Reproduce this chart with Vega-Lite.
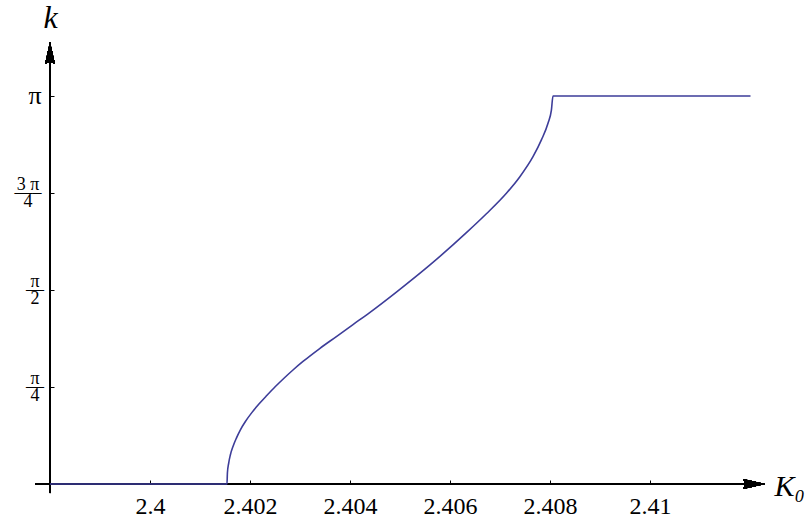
{
  "$schema": "https://vega.github.io/schema/vega-lite/v6.json",
  "width": 725,
  "height": 388,
  "autosize": "none",
  "padding": {"left": 50, "top": 96, "right": 31, "bottom": 36},
  "background": "white",
  "config": {"view": {"stroke": null}},
  "resolve": {"axis": {"x": "independent", "y": "independent"}},
  "data": {
    "values": [
      {"K0": 2.398, "k": 0},
      {"K0": 2.40154, "k": 0},
      {"K0": 2.401548, "k": 0.089},
      {"K0": 2.401574, "k": 0.17},
      {"K0": 2.401608, "k": 0.237},
      {"K0": 2.40166, "k": 0.304},
      {"K0": 2.401728, "k": 0.372},
      {"K0": 2.401808, "k": 0.439},
      {"K0": 2.401908, "k": 0.506},
      {"K0": 2.40204, "k": 0.58},
      {"K0": 2.402174, "k": 0.645},
      {"K0": 2.40234, "k": 0.718},
      {"K0": 2.402508, "k": 0.789},
      {"K0": 2.402674, "k": 0.854},
      {"K0": 2.402854, "k": 0.921},
      {"K0": 2.40306, "k": 0.992},
      {"K0": 2.403394, "k": 1.097},
      {"K0": 2.403728, "k": 1.194},
      {"K0": 2.40406, "k": 1.291},
      {"K0": 2.404394, "k": 1.388},
      {"K0": 2.404928, "k": 1.554},
      {"K0": 2.405594, "k": 1.772},
      {"K0": 2.406328, "k": 2.035},
      {"K0": 2.406728, "k": 2.188},
      {"K0": 2.407128, "k": 2.354},
      {"K0": 2.407394, "k": 2.486},
      {"K0": 2.40766, "k": 2.65},
      {"K0": 2.407828, "k": 2.786},
      {"K0": 2.40796, "k": 2.921},
      {"K0": 2.408028, "k": 3.028},
      {"K0": 2.40806, "k": 3.14159},
      {"K0": 2.41201, "k": 3.14159}
    ]
  },
  "layer": [
    {
      "mark": {"type": "rule", "color": "black", "strokeWidth": 1},
      "encoding": {
        "x": {"datum": 2.3977, "type": "quantitative", "scale": {"domain": [2.398, 2.4125], "nice": false, "zero": false}, "axis": null},
        "x2": {"datum": 2.4119},
        "y": {"datum": 0, "type": "quantitative", "scale": {"domain": [0, 3.14159265], "nice": false, "zero": false}, "axis": null}
      }
    },
    {
      "mark": {"type": "rule", "color": "black", "strokeWidth": 1},
      "encoding": {
        "x": {"datum": 2.398, "type": "quantitative", "scale": {"domain": [2.398, 2.4125], "nice": false, "zero": false}, "axis": null},
        "y": {"datum": -0.073, "type": "quantitative", "scale": {"domain": [0, 3.14159265], "nice": false, "zero": false}, "axis": null},
        "y2": {"datum": 3.43}
      }
    },
    {
      "mark": {"type": "point", "filled": true, "color": "black", "opacity": 1, "size": 484, "shape": "M 1 0 L -1 -0.45 L -0.75 0 L -1 0.45 Z"},
      "encoding": {
        "x": {"datum": 2.41208, "type": "quantitative", "scale": {"domain": [2.398, 2.4125], "nice": false, "zero": false}, "axis": null},
        "y": {"datum": 0, "type": "quantitative", "scale": {"domain": [0, 3.14159265], "nice": false, "zero": false}, "axis": null}
      }
    },
    {
      "mark": {"type": "point", "filled": true, "color": "black", "opacity": 1, "size": 484, "shape": "M 0 -1 L -0.45 1 L 0 0.75 L 0.45 1 Z"},
      "encoding": {
        "x": {"datum": 2.398, "type": "quantitative", "scale": {"domain": [2.398, 2.4125], "nice": false, "zero": false}, "axis": null},
        "y": {"datum": 3.49, "type": "quantitative", "scale": {"domain": [0, 3.14159265], "nice": false, "zero": false}, "axis": null}
      }
    },
    {
      "mark": {"type": "line", "color": "#3d3d99", "strokeWidth": 1.6, "interpolate": "monotone"},
      "encoding": {
        "x": {
          "field": "K0", "type": "quantitative",
          "scale": {"domain": [2.398, 2.4125], "nice": false, "zero": false},
          "axis": {
            "values": [2.4, 2.402, 2.404, 2.406, 2.408, 2.41],
            "format": "~g",
            "domain": false, "grid": false,
            "tickSize": -4, "tickColor": "black", "tickWidth": 1,
            "labelFont": "Liberation Serif", "labelFontSize": 24, "labelColor": "black",
            "labelPadding": 14, "labelFlush": false, "labelOverlap": false,
            "title": "K₀",
            "titleFont": "Liberation Serif", "titleFontStyle": "italic", "titleFontSize": 30,
            "titleFontWeight": "normal", "titleColor": "black",
            "titleX": 724, "titleY": 11, "titleAlign": "left", "titleBaseline": "alphabetic", "titleAngle": 0
          }
        },
        "y": {
          "field": "k", "type": "quantitative",
          "scale": {"domain": [0, 3.14159265], "nice": false, "zero": false},
          "axis": {
            "values": [0.785398163, 1.570796327, 2.35619449, 3.14159265],
            "labelExpr": "datum.value > 3 ? ['', 'π', ''] : datum.value > 2 ? ['3 π', '—–', '4'] : datum.value > 1 ? ['π', '—', '2'] : ['π', '—', '4']",
            "domain": false, "grid": false,
            "tickSize": -4, "tickColor": "black", "tickWidth": 1,
            "labelFont": "Liberation Serif",
            "labelFontSize": {"condition": {"test": "datum.value > 3", "value": 26}, "value": 18},
            "labelLineHeight": 8.5,
            "labelOffset": -9,
            "labelAlign": "center",
            "labelPadding": {"condition": {"test": "datum.value > 2 && datum.value < 3", "value": 26.5}, "value": 19.5},
            "labelColor": "black", "labelOverlap": false, "labelFlush": false,
            "title": "k",
            "titleFont": "Liberation Serif", "titleFontStyle": "italic", "titleFontSize": 32,
            "titleFontWeight": "normal", "titleColor": "black",
            "titleX": 0, "titleY": -69, "titleAlign": "center", "titleBaseline": "alphabetic", "titleAngle": 0
          }
        }
      }
    }
  ]
}
